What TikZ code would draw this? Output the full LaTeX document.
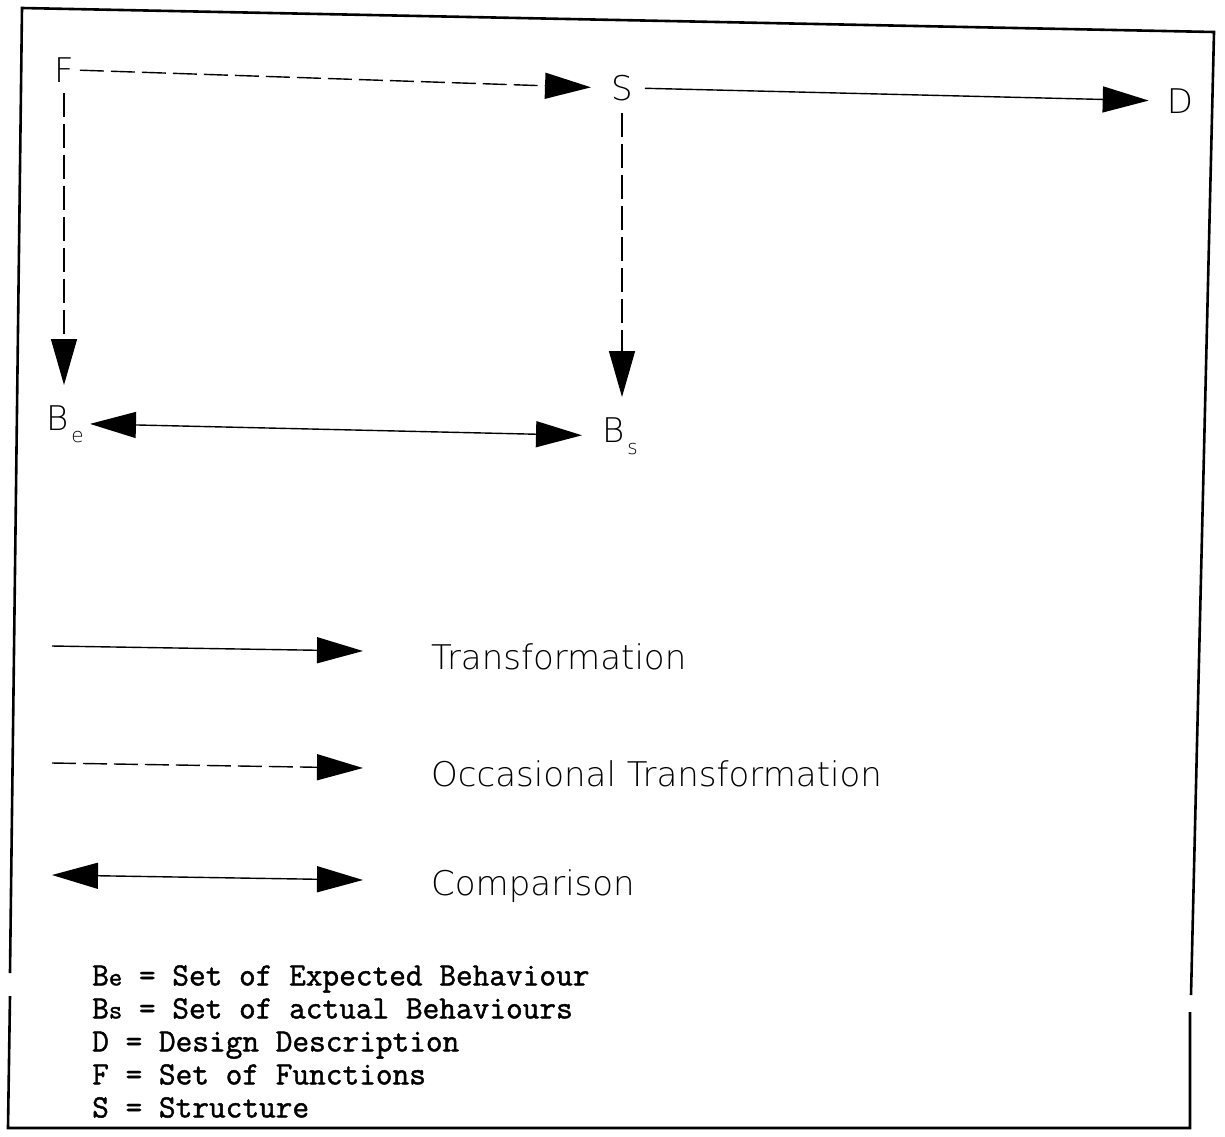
\documentclass[tikz,border=0pt]{standalone}
\usepackage{fontspec}
\usepackage{tikz}
\usetikzlibrary{arrows.meta, positioning}
\newfontfamily\plotfont{DejaVu Sans}[UprightFont=* ExtraLight]
\newfontfamily\keyfont{Latin Modern Mono}[FakeBold=1.4]

\begin{document}
\begin{tikzpicture}[x=1pt, y=-1pt,
    lbl/.style={font=\plotfont\fontsize{34}{34}\selectfont, inner sep=0pt},
    trans/.style={line width=1.4pt, -{Triangle[length=46pt, width=26pt]}},
    occas/.style={trans, dash pattern=on 24pt off 7pt},
    compare/.style={line width=1.4pt, {Triangle[length=46pt, width=26pt]}-{Triangle[length=46pt, width=26pt]}}]
    \useasboundingbox (0,0) rectangle (1225,1136);

    % outer frame, broken on both sides near the key
    \draw[line width=2.6pt] (10,973) -- (22,8) -- (1214,32) -- (1191,995);
    \draw[line width=2.6pt] (10,996) -- (8,1128) -- (1190,1128) -- (1190,1012);

    % sets
    \node[lbl] (F) at (64,70) {F};
    \node[lbl] (S) at (622,88) {S};
    \node[lbl] (D) at (1180,101) {D};
    \node[lbl, anchor=base west] (Be) at (46,430) {B\hspace{3pt}\raisebox{-12pt}{\fontsize{20}{20}\selectfont e}};
    \node[lbl, anchor=base west] (Bs) at (602,442) {B\hspace{3pt}\raisebox{-12pt}{\fontsize{20}{20}\selectfont s}};

    \draw[occas, shorten <=6pt, shorten >=20pt] (F.east) -- (S.west);
    \draw[trans, shorten <=12pt, shorten >=18pt] (S.east) -- (D.west);
    \draw[occas, shorten <=10pt, shorten >=20pt] (F.south) -- (F |- Be.north);
    \draw[occas, shorten <=12pt, shorten >=20pt] (S.south) -- (S |- Bs.north);
    \draw[compare, shorten <=6pt, shorten >=20pt] (Be.east) -- (Bs.west);

    % legend of connector kinds
    \foreach \st/\yy/\txt [count=\i] in {trans/646/Transformation,
                                          occas/763/Occasional Transformation,
                                          compare/875/Comparison} {
        \coordinate (la\i) at (52,\yy);
        \coordinate (lb\i) at (363,\yy+5);
        \draw[\st] (la\i) -- (lb\i);
        \node[lbl, anchor=west] (lt\i) at (431,\yy+11) {\txt};
    }

    % key
    \node[anchor=north west, inner sep=0pt, align=left,
          font=\keyfont\fontsize{32.4}{33}\selectfont] (key) at (92,965)
        {B{\fontsize{26}{26}\selectfont e} = Set of Expected Behaviour\\
         B{\fontsize{26}{26}\selectfont s} = Set of actual Behaviours\\
         D = Design Description\\
         F = Set of Functions\\
         S = Structure};
\end{tikzpicture}
\end{document}
